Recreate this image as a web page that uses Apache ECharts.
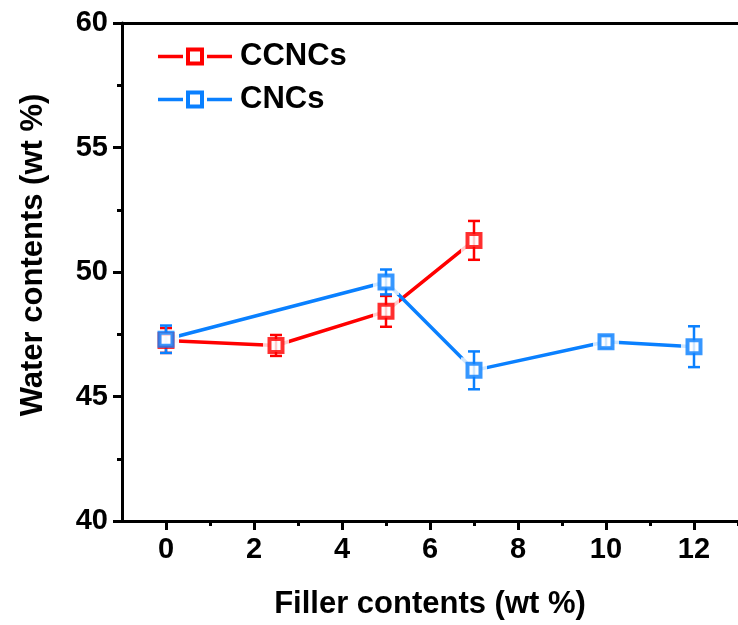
<!DOCTYPE html>
<html>
<head>
<meta charset="utf-8">
<script src="https://cdn.jsdelivr.net/npm/echarts@6/dist/echarts.min.js"></script>
<style>
  html, body { margin: 0; padding: 0; background: #fff; }
  #chart { width: 738px; height: 625px; }
</style>
</head>
<body>
<div id="chart"></div>
<script>
// Water content vs. filler loading, mean ± error for each filler type
const ccncX = [0, 2.5, 5, 7];
const ccncY = [47.25, 47.05, 48.42, 51.27];
const ccncErr = [0.5, 0.42, 0.62, 0.78];

const cncX = [0, 5, 7, 10, 12];
const cncY = [47.3, 49.6, 46.05, 47.2, 47.0];
const cncErr = [0.55, 0.5, 0.76, 0.22, 0.82];

const xMajorTicks = [0, 2, 4, 6, 8, 10, 12];
const xMinorTicks = [1, 3, 5, 7, 9, 11, 13];

const RED = '#FF0000';
const BLUE = '#0A80FF';
const FONT = 'Liberation Sans, Arial, sans-serif';

// legend glyph: line segment, hollow square, line segment (filled path, hole by winding)
const LEGEND_ICON = 'path://M0 7.25H25V10.75H0Z M28 0H46V18H28Z M32 4V14H42V4Z M49 7.25H74V10.75H49Z';

const pairs = (xs, ys) => xs.map((x, i) => [x, ys[i]]);
const triples = (xs, ys, es) => xs.map((x, i) => [x, ys[i], es[i]]);

function errorBars(color) {
  return function (params, api) {
    const x = api.value(0), y = api.value(1), e = api.value(2);
    const hi = api.coord([x, y + e]);
    const lo = api.coord([x, y - e]);
    const cap = 6;
    const style = { stroke: color, lineWidth: 2.5 };
    return {
      type: 'group',
      children: [
        { type: 'line', shape: { x1: hi[0], y1: hi[1], x2: lo[0], y2: lo[1] }, style: style },
        { type: 'line', shape: { x1: hi[0] - cap, y1: hi[1], x2: hi[0] + cap, y2: hi[1] }, style: style },
        { type: 'line', shape: { x1: lo[0] - cap, y1: lo[1], x2: lo[0] + cap, y2: lo[1] }, style: style }
      ]
    };
  };
}

const axisLine = { show: true, onZero: false, lineStyle: { color: '#000', width: 3 } };
const labelStyle = { color: '#000', fontSize: 29, fontWeight: 'bold', fontFamily: FONT };
const titleStyle = { color: '#000', fontSize: 31, fontWeight: 'bold', fontFamily: FONT };

const chart = echarts.init(document.getElementById('chart'), null, { renderer: 'canvas' });

chart.setOption({
  animation: false,
  backgroundColor: '#fff',
  grid: { left: 122, top: 23, right: -6, bottom: 102, containLabel: false },
  legend: {
    data: [
      { name: 'CCNCs', icon: LEGEND_ICON },
      { name: 'CNCs', icon: LEGEND_ICON }
    ],
    orient: 'vertical',
    left: 158,
    top: 41,
    padding: 0,
    itemWidth: 74,
    itemHeight: 18,
    itemGap: 12,
    itemStyle: { borderWidth: 0 },
    textStyle: { color: '#000', fontSize: 31, fontWeight: 'bold', fontFamily: FONT, padding: [0, 0, 0, 3] }
  },
  xAxis: [
    {
      type: 'value', min: -1, max: 13, position: 'bottom',
      axisLine: axisLine,
      axisTick: { show: true, inside: false, length: 9, customValues: xMajorTicks, lineStyle: { color: '#000', width: 3 } },
      axisLabel: Object.assign({ margin: 14, customValues: xMajorTicks }, labelStyle),
      splitLine: { show: false },
      name: 'Filler contents (wt %)',
      nameLocation: 'middle',
      nameGap: 68,
      nameTextStyle: titleStyle
    },
    {
      type: 'value', min: -1, max: 13, position: 'bottom', offset: 0,
      axisLine: { show: false, onZero: false },
      axisTick: { show: true, inside: false, length: 5, customValues: xMinorTicks, lineStyle: { color: '#000', width: 3 } },
      axisLabel: { show: false },
      splitLine: { show: false }
    },
    {
      type: 'value', min: -1, max: 13, position: 'top',
      axisLine: axisLine,
      axisTick: { show: false },
      axisLabel: { show: false },
      splitLine: { show: false }
    }
  ],
  yAxis: {
    type: 'value', min: 40, max: 60, interval: 5,
    axisLine: axisLine,
    axisTick: { show: true, inside: false, length: 9, lineStyle: { color: '#000', width: 3 } },
    minorTick: { show: true, splitNumber: 2, length: 5, lineStyle: { color: '#000', width: 3 } },
    axisLabel: Object.assign({ margin: 14 }, labelStyle),
    splitLine: { show: false },
    name: 'Water contents (wt %)',
    nameLocation: 'middle',
    nameRotate: 90,
    nameGap: 73,
    nameTextStyle: Object.assign({ padding: [0, 0, 0, 34] }, titleStyle)
  },
  series: [
    {
      name: 'CCNCs', type: 'line', z: 1,
      data: pairs(ccncX, ccncY),
      symbol: 'emptyRect', symbolSize: 13,
      color: RED,
      lineStyle: { color: RED, width: 3.5 },
      itemStyle: { color: RED, borderWidth: 4 }
    },
    {
      name: 'CNCs', type: 'line', z: 1,
      data: pairs(cncX, cncY),
      symbol: 'emptyRect', symbolSize: 13,
      color: BLUE,
      lineStyle: { color: BLUE, width: 3.5 },
      itemStyle: { color: BLUE, borderWidth: 4 }
    },
    // white halos leave a small gap between connecting lines and markers
    {
      name: 'ccnc-gap', type: 'scatter', z: 2, silent: true,
      data: pairs(ccncX, ccncY), symbol: 'rect', symbolSize: 26,
      itemStyle: { color: '#fff' }
    },
    {
      name: 'cnc-gap', type: 'scatter', z: 2, silent: true,
      data: pairs(cncX, cncY), symbol: 'rect', symbolSize: 26,
      itemStyle: { color: '#fff' }
    },
    {
      name: 'ccnc-err', type: 'custom', z: 3, silent: true,
      data: triples(ccncX, ccncY, ccncErr),
      encode: { x: 0, y: 1 },
      renderItem: errorBars(RED)
    },
    {
      name: 'cnc-err', type: 'custom', z: 3, silent: true,
      data: triples(cncX, cncY, cncErr),
      encode: { x: 0, y: 1 },
      renderItem: errorBars(BLUE)
    },
    {
      name: 'ccnc-mark', type: 'scatter', z: 4, silent: true,
      data: pairs(ccncX, ccncY), symbol: 'rect', symbolSize: 13,
      itemStyle: { color: '#fff', borderColor: RED, borderWidth: 4 }
    },
    {
      name: 'cnc-mark', type: 'scatter', z: 4, silent: true,
      data: pairs(cncX, cncY), symbol: 'rect', symbolSize: 13,
      itemStyle: { color: '#fff', borderColor: BLUE, borderWidth: 4 }
    }
  ]
});
</script>
</body>
</html>
